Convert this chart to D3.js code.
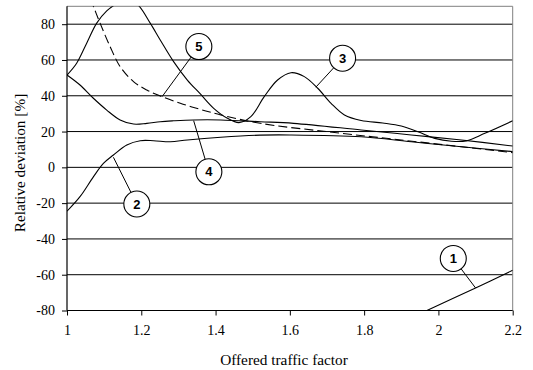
<!DOCTYPE html>
<html>
<head>
<meta charset="utf-8">
<script src="https://cdn.jsdelivr.net/npm/d3@7"></script>
<style>
  html, body { margin: 0; padding: 0; background: #fff; }
  svg { display: block; }
  .serif { font-family: "Liberation Serif", "DejaVu Serif", serif; font-size: 14px; fill: #000; }
  .title { font-family: "Liberation Serif", "DejaVu Serif", serif; font-size: 15.3px; fill: #000; }
  .callout { font-family: "Liberation Sans", Arial, sans-serif; font-weight: bold; font-size: 13px; fill: #000; }
</style>
</head>
<body>
<svg id="chart" width="533" height="370"></svg>
<script>
// Relative deviation of five estimators versus offered traffic factor
const xTicks = [1, 1.2, 1.4, 1.6, 1.8, 2, 2.2];
const yTicks = [-80, -60, -40, -20, 0, 20, 40, 60, 80];

const curve1 = [[1.969, -80], [2.1, -67.4], [2.2, -57.5]];

const curve2 = [[1, -24.5], [1.035, -16.4], [1.071, -5.3], [1.098, 2.2], [1.125, 6.9],
  [1.161, 12.5], [1.197, 14.9], [1.233, 14.9], [1.278, 14.3], [1.324, 15.3],
  [1.414, 16.8], [1.52, 18], [1.6, 18.1], [1.792, 17.1], [1.927, 14.3],
  [2.062, 11.5], [2.2, 8.8]];

const curve3 = [[1, 51.6], [1.026, 58.2], [1.053, 69.4], [1.08, 80.6], [1.107, 87.4],
  [1.13, 91], [1.16, 94], [1.19, 91], [1.224, 80.6], [1.251, 71.2], [1.287, 59.1],
  [1.324, 48.8], [1.359, 41], [1.395, 33], [1.432, 27.4], [1.463, 25], [1.495, 28.3],
  [1.531, 39.5], [1.567, 48.8], [1.603, 52.9], [1.639, 50.7], [1.675, 44.2],
  [1.711, 35.8], [1.747, 29.3], [1.792, 26.2], [1.85, 24.8], [1.9, 23.1],
  [1.945, 19.9], [1.99, 16.2], [2.035, 14.6], [2.075, 14.8], [2.125, 19], [2.2, 26]];

const curve4 = [[1, 51.6], [1.035, 46], [1.071, 38.6], [1.107, 32], [1.143, 26.5],
  [1.179, 24.2], [1.215, 24.6], [1.251, 25.5], [1.287, 26], [1.341, 26.5],
  [1.414, 26.5], [1.52, 25.5], [1.61, 24.6], [1.792, 20.9], [1.927, 18.1],
  [2.062, 15.3], [2.2, 11.9]];

const curve5 = [[1.05, 101], [1.071, 90], [1.089, 80.6], [1.116, 67.5], [1.143, 56.3],
  [1.179, 47.9], [1.215, 43.2], [1.251, 39.9], [1.305, 35.8], [1.359, 32.4],
  [1.414, 29.3], [1.52, 24.6], [1.702, 19.9], [1.882, 15.7], [2.062, 11.5], [2.2, 8.2]];

// callout labels: circle centre and the point on the curve the leader reaches
const callouts = [
  { label: "1", cx: 2.040, cy: -50.9, tx: 2.1, ty: -67.4 },
  { label: "2", cx: 1.188, cy: -20.5, tx: 1.125, ty: 5.6 },
  { label: "3", cx: 1.742, cy: 61, tx: 1.670, ty: 44.8 },
  { label: "4", cx: 1.382, cy: -2.5, tx: 1.341, ty: 26.1 },
  { label: "5", cx: 1.355, cy: 67.5, tx: 1.256, ty: 39.5 }
];

const svg = d3.select("#chart");
const plotLeft = 67, plotRight = 512.7, plotTop = 6.3, plotBottom = 310.5;

const x = d3.scaleLinear().domain([1, 2.2]).range([plotLeft, plotRight]);
const y = d3.scaleLinear().domain([-80, 90]).range([plotBottom, plotTop]);

// gridlines
svg.append("g")
  .selectAll("line")
  .data(yTicks.filter(d => d > -80))
  .join("line")
  .attr("x1", plotLeft).attr("x2", plotRight)
  .attr("y1", d => y(d)).attr("y2", d => y(d))
  .attr("stroke", "#000").attr("stroke-width", 1);

// frame: top and right edges
svg.append("path")
  .attr("d", `M${plotLeft},${plotTop}H${plotRight}V${plotBottom}`)
  .attr("fill", "none").attr("stroke", "#808080").attr("stroke-width", 1);

// curves, clipped to the plot area
svg.append("clipPath").attr("id", "plotclip")
  .append("rect").attr("x", plotLeft).attr("y", plotTop)
  .attr("width", plotRight - plotLeft).attr("height", plotBottom - plotTop);

const line = d3.line()
  .x(d => x(d[0])).y(d => y(d[1]))
  .curve(d3.curveCatmullRom.alpha(0.5));

const curves = svg.append("g").attr("clip-path", "url(#plotclip)");
[curve1, curve2, curve3, curve4].forEach(c => {
  curves.append("path").attr("d", line(c))
    .attr("fill", "none").attr("stroke", "#000").attr("stroke-width", 1.1);
});
curves.append("path").attr("d", line(curve5))
  .attr("fill", "none").attr("stroke", "#000").attr("stroke-width", 1.1)
  .attr("stroke-dasharray", "9,4");

// axes
const yAxis = svg.append("g")
  .attr("transform", `translate(${plotLeft},0)`)
  .call(d3.axisLeft(y).tickValues(yTicks).tickSize(5).tickPadding(7)
    .tickFormat(d => String(d)));
const xAxis = svg.append("g")
  .attr("transform", `translate(0,${plotBottom})`)
  .call(d3.axisBottom(x).tickValues(xTicks).tickSize(5).tickPadding(10)
    .tickFormat(d => String(d)));

[yAxis, xAxis].forEach(a => {
  a.attr("font-family", null).attr("font-size", null);
  a.select(".domain").attr("stroke", "#000").attr("stroke-width", 1.2);
  a.selectAll(".tick line").attr("stroke", "#000");
  a.selectAll(".tick text").attr("class", "serif").attr("fill", null);
});
yAxis.select(".domain").attr("d", `M0,${plotTop}V${plotBottom}`);
xAxis.select(".domain").attr("d", `M${plotLeft},0H${plotRight}`);

// axis titles
svg.append("text")
  .attr("class", "title")
  .attr("x", 284).attr("y", 365)
  .attr("text-anchor", "middle")
  .text("Offered traffic factor");

svg.append("text")
  .attr("class", "title")
  .attr("transform", "translate(25,163) rotate(-90)")
  .attr("text-anchor", "middle")
  .text("Relative deviation [%]");

// callouts
const r = 13;
const g = svg.append("g");
callouts.forEach(c => {
  const cx = x(c.cx), cy = y(c.cy), tx = x(c.tx), ty = y(c.ty);
  const dx = tx - cx, dy = ty - cy, len = Math.hypot(dx, dy);
  g.append("line")
    .attr("x1", cx + dx / len * r).attr("y1", cy + dy / len * r)
    .attr("x2", tx).attr("y2", ty)
    .attr("stroke", "#000").attr("stroke-width", 1);
  g.append("circle").attr("cx", cx).attr("cy", cy).attr("r", r)
    .attr("fill", "#fff").attr("stroke", "#000").attr("stroke-width", 1.1);
  g.append("text").attr("class", "callout")
    .attr("x", cx).attr("y", cy)
    .attr("text-anchor", "middle").attr("dominant-baseline", "central")
    .text(c.label);
});
</script>
</body>
</html>
